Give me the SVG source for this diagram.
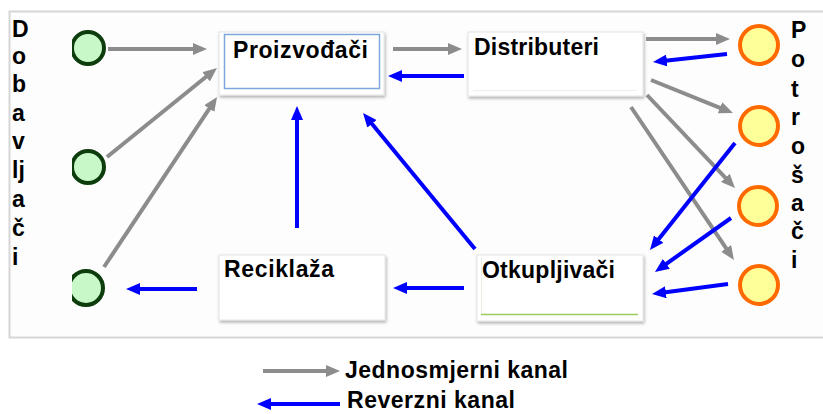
<svg xmlns="http://www.w3.org/2000/svg" width="823" height="414" viewBox="0 0 823 414">
<style>
.lbl{font-family:"Liberation Sans",Arial,sans-serif;font-weight:bold;font-size:23px;fill:#000}
.vt{font-family:"Liberation Sans",Arial,sans-serif;font-weight:bold;font-size:23px;fill:#000}
.box{fill:#fff;stroke:#e4e4e4;stroke-width:1;filter:url(#sh)}
.g{stroke:#8c8c8c;stroke-width:4;fill:none;marker-end:url(#ag)}
.b{stroke:#0000ff;stroke-width:4;fill:none;marker-end:url(#ab)}
.sup{fill:#c8f7c8;stroke:#0d3d0d;stroke-width:4}
.con{fill:#ffff99;stroke:#ff6a00;stroke-width:4}
</style>
<defs>
<filter id="sh" x="-10%" y="-10%" width="125%" height="140%">
<feDropShadow dx="1" dy="2" stdDeviation="1.5" flood-color="#000" flood-opacity="0.3"/>
</filter>
<marker id="ag" markerUnits="userSpaceOnUse" markerWidth="14" markerHeight="12" refX="4" refY="6" orient="auto">
<path d="M0,0 L14,6 L0,12 z" fill="#8c8c8c"/>
</marker>
<marker id="ab" markerUnits="userSpaceOnUse" markerWidth="14" markerHeight="12" refX="4" refY="6" orient="auto">
<path d="M0,0 L14,6 L0,12 z" fill="#0000ff"/>
</marker>
<clipPath id="clipL"><rect x="72" y="0" width="100" height="414"/></clipPath>
</defs>
<rect x="0" y="0" width="823" height="414" fill="#fff"/>
<rect x="9.5" y="11.5" width="830" height="326" fill="#fdfdfd" stroke="#d6d6d6" stroke-width="2"/>

<g id="dobavljaci-label">
<text class="vt" x="12" y="37">D</text>
<text class="vt" x="12" y="64">o</text>
<text class="vt" x="12" y="92">b</text>
<text class="vt" x="12" y="121">a</text>
<text class="vt" x="12" y="149">v</text>
<text class="vt" x="12" y="178">lj</text>
<text class="vt" x="12" y="207">a</text>
<text class="vt" x="12" y="236">č</text>
<text class="vt" x="12" y="265">i</text>
</g>
<g id="potrosaci-label">
<text class="vt" x="791" y="38">P</text>
<text class="vt" x="791" y="67">o</text>
<text class="vt" x="791" y="97">t</text>
<text class="vt" x="791" y="125">r</text>
<text class="vt" x="791" y="154">o</text>
<text class="vt" x="791" y="183">š</text>
<text class="vt" x="791" y="211">a</text>
<text class="vt" x="791" y="239">č</text>
<text class="vt" x="791" y="268">i</text>
</g>

<g id="supplier1" clip-path="url(#clipL)"><circle class="sup" cx="88" cy="48" r="16"/></g>
<g id="supplier2" clip-path="url(#clipL)"><circle class="sup" cx="88" cy="167" r="16"/></g>
<g id="supplier3" clip-path="url(#clipL)"><circle class="sup" cx="86" cy="288" r="17"/></g>

<g id="consumer1"><circle class="con" cx="759" cy="45" r="19"/></g>
<g id="consumer2"><circle class="con" cx="759" cy="126" r="19"/></g>
<g id="consumer3"><circle class="con" cx="758" cy="206" r="19"/></g>
<g id="consumer4"><circle class="con" cx="759" cy="285" r="19"/></g>

<g id="proizvodaci">
<rect class="box" x="219" y="32" width="165" height="63"/>
<rect x="224.5" y="34.5" width="155" height="54" fill="none" stroke="#7ea6dc" stroke-width="1.5"/>
<text class="lbl" x="233" y="58" textLength="135">Proizvođači</text>
</g>
<g id="distributeri">
<rect class="box" x="468" y="32" width="175" height="64"/>
<line x1="473" y1="90.5" x2="637" y2="90.5" stroke="#ececf4" stroke-width="1"/>
<text class="lbl" x="474" y="55" textLength="125">Distributeri</text>
</g>
<g id="reciklaza">
<rect class="box" x="219" y="255" width="166" height="65"/>
<text class="lbl" x="224" y="277" textLength="110">Reciklaža</text>
</g>
<g id="otkupljivaci">
<rect class="box" x="477" y="255" width="166" height="66"/>
<line x1="481.5" y1="258" x2="481.5" y2="314" stroke="#e8eee0" stroke-width="1"/>
<line x1="481" y1="314.5" x2="638" y2="314.5" stroke="#9ccc5c" stroke-width="1.5"/>
<text class="lbl" x="482" y="278" textLength="133">Otkupljivači</text>
</g>

<g id="connectors">
<line class="g" x1="108" y1="49" x2="197" y2="49"/>
<line class="g" x1="107" y1="157" x2="209.2" y2="74.3"/>
<line class="g" x1="104" y1="267" x2="211.5" y2="105.3"/>
<line class="g" x1="393" y1="49" x2="452" y2="49"/>
<line class="b" x1="464" y1="76" x2="398" y2="76"/>
<line class="g" x1="646" y1="39" x2="720" y2="39"/>
<line class="b" x1="727" y1="54" x2="662.9" y2="60.9"/>
<line class="g" x1="651" y1="80" x2="723.7" y2="109.3"/>
<line class="g" x1="647" y1="95" x2="728.1" y2="180.7"/>
<line class="g" x1="631" y1="107" x2="728.4" y2="251.7"/>
<line class="b" x1="735" y1="143" x2="656.2" y2="242.2"/>
<line class="b" x1="731" y1="218" x2="663.1" y2="266.1"/>
<line class="b" x1="728" y1="284" x2="661.9" y2="292.7"/>
<line class="b" x1="475" y1="249" x2="369.4" y2="120.7"/>
<line class="b" x1="297" y1="228" x2="297" y2="116"/>
<line class="b" x1="464" y1="288" x2="403" y2="288"/>
<line class="b" x1="197" y1="289" x2="136" y2="289"/>
</g>

<g id="legend">
<line class="g" x1="263" y1="371" x2="330" y2="371"/>
<text class="lbl" x="345" y="378" textLength="223">Jednosmjerni kanal</text>
<line class="b" x1="340" y1="404" x2="267" y2="404"/>
<text class="lbl" x="347" y="408" font-size="22" textLength="168">Reverzni kanal</text>
</g>
</svg>
